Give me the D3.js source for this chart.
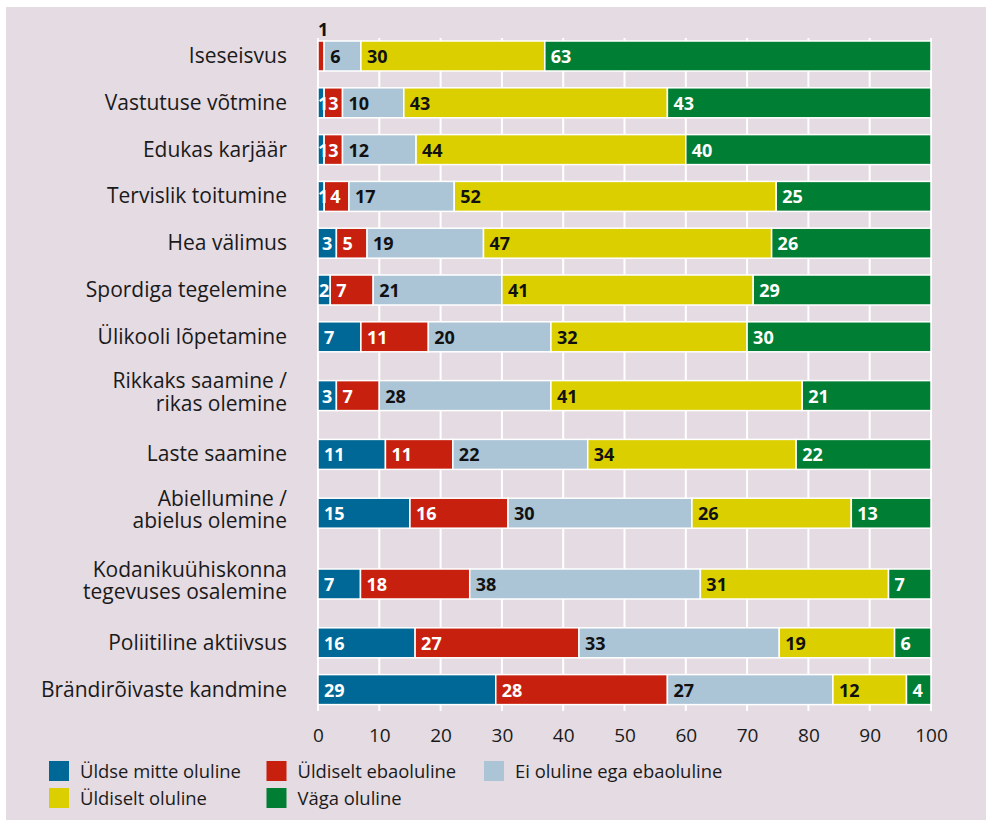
<!DOCTYPE html>
<html>
<head>
<meta charset="utf-8">
<script src="https://cdn.jsdelivr.net/npm/d3@7"></script>
<style>
  html, body { margin: 0; padding: 0; background: #ffffff; }
  text { font-family: "Open Sans", "Noto Sans", sans-serif; }
</style>
</head>
<body>
<div class="chart"></div>
<script>
// categories (multi-line labels as arrays)
const categories = [
  ["Iseseisvus"],
  ["Vastutuse võtmine"],
  ["Edukas karjäär"],
  ["Tervislik toitumine"],
  ["Hea välimus"],
  ["Spordiga tegelemine"],
  ["Ülikooli lõpetamine"],
  ["Rikkaks saamine /", "rikas olemine"],
  ["Laste saamine"],
  ["Abiellumine /", "abielus olemine"],
  ["Kodanikuühiskonna", "tegevuses osalemine"],
  ["Poliitiline aktiivsus"],
  ["Brändirõivaste kandmine"]
];

const seriesNames = [
  "Üldse mitte oluline",
  "Üldiselt ebaoluline",
  "Ei oluline ega ebaoluline",
  "Üldiselt oluline",
  "Väga oluline"
];

// values per series, in category order
const uldseMitte     = [0, 1, 1, 1, 3, 2, 7, 3, 11, 15, 7, 16, 29];
const uldiseltEba    = [1, 3, 3, 4, 5, 7, 11, 7, 11, 16, 18, 27, 28];
const eiOlulineEga   = [6, 10, 12, 17, 19, 21, 20, 28, 22, 30, 38, 33, 27];
const uldiseltOluline= [30, 43, 44, 52, 47, 41, 32, 41, 34, 26, 31, 19, 12];
const vagaOluline    = [63, 43, 40, 25, 26, 29, 30, 21, 22, 13, 7, 6, 4];

const xTicks = [0, 10, 20, 30, 40, 50, 60, 70, 80, 90, 100];

const colors = ["#006896", "#c8200f", "#abc4d6", "#dccf00", "#007e33"];
const labelColors = ["#ffffff", "#ffffff", "#111111", "#111111", "#ffffff"];

var cfg = {
  width: 986,
  height: 820,
  left: 318,
  right: 931,
  firstRow: 56,
  rowStep: 46.8,
  lineExtra: 12,
  barHeight: 30,
  gridTop: 38,
  gridBottom: 711
};

const allSeries = [uldseMitte, uldiseltEba, eiOlulineEga, uldiseltOluline, vagaOluline];
const names = categories.map(c => c.join(" "));

// table for d3.stack
const table = names.map((n, i) => {
  var row = {name: n};
  seriesNames.forEach((s, j) => row[s] = allSeries[j][i]);
  return row;
});

const stacked = d3.stack()
  .keys(seriesNames)
  .offset(d3.stackOffsetExpand)(table);

// row centres: two-line labels need extra room
var centers = [cfg.firstRow];
for (var i = 1; i < categories.length; i++) {
  centers.push(centers[i - 1] + cfg.rowStep +
    cfg.lineExtra * ((categories[i - 1].length - 1) + (categories[i].length - 1)));
}

var x = d3.scaleLinear().domain([0, 100]).range([cfg.left, cfg.right]);
var y = d3.scaleOrdinal().domain(names).range(centers);
var color = d3.scaleOrdinal().domain(seriesNames).range(colors);

var svg = d3.select(".chart").append("svg")
  .attr("width", cfg.width)
  .attr("height", cfg.height);

// background panel
svg.append("rect")
  .attr("x", 6).attr("y", 7)
  .attr("width", cfg.width - 6).attr("height", cfg.height - 7)
  .attr("fill", "#e5dbe2");

// gridlines
svg.append("g").selectAll("line")
  .data(xTicks)
  .enter().append("line")
  .attr("x1", d => x(d)).attr("x2", d => x(d))
  .attr("y1", cfg.gridTop).attr("y2", cfg.gridBottom)
  .attr("stroke", "#ffffff")
  .attr("stroke-width", 2);

// x axis labels
var axis = svg.append("g")
  .attr("transform", `translate(0, ${cfg.gridBottom + 31})`)
  .call(d3.axisBottom(x).tickValues(xTicks).tickSize(0).tickPadding(0));
axis.select(".domain").remove();
axis.selectAll("text")
  .attr("dy", 0)
  .attr("y", 0)
  .style("font-family", "'Open Sans', sans-serif")
  .style("font-size", "19px")
  .attr("fill", "#1a1a1a");

// category labels, one text per line
var catG = svg.append("g");
categories.forEach((lines, i) => {
  var n = lines.length;
  lines.forEach((line, k) => {
    catG.append("text")
      .attr("text-anchor", "end")
      .attr("x", 287)
      .attr("y", centers[i] + 7 - (n - 1) * 3 + (k - (n - 1) / 2) * 22.5)
      .style("font-size", "21px")
      .attr("fill", "#1a1a1a")
      .text(line);
  });
});

// bars
var layers = svg.append("g").selectAll("g")
  .data(stacked)
  .enter().append("g")
  .attr("fill", d => color(d.key));

layers.selectAll("rect")
  .data(d => d)
  .enter().append("rect")
  .filter(d => d[1] - d[0] > 0)
  .attr("x", d => x(d[0] * 100))
  .attr("width", d => x(d[1] * 100) - x(d[0] * 100))
  .attr("y", d => y(d.data.name) - cfg.barHeight / 2)
  .attr("height", cfg.barHeight)
  .attr("stroke", "#ffffff")
  .attr("stroke-width", 1.5);

// value labels
var labelG = svg.append("g");
stacked.forEach((layer, j) => {
  layer.forEach((d, i) => {
    var v = allSeries[j][i];
    if (v === 0) return;
    var x0 = x(d[0] * 100), x1 = x(d[1] * 100), w = x1 - x0;
    var cy = y(d.data.name);
    var t = labelG.append("text")
      .style("font-size", "18px")
      .style("font-weight", "bold")
      .text(v);
    var tw = t.node().getComputedTextLength();
    if (w < tw && j > 0) {
      // too narrow: put label above the bar
      t.attr("x", x0).attr("y", cy - cfg.barHeight / 2 - 5).attr("fill", "#111111");
    } else {
      var pad = Math.max(0, Math.min(6, (w - tw) / 2));
      t.attr("x", x0 + pad).attr("y", cy + 7).attr("fill", labelColors[j]);
    }
  });
});

// legend
var legend = svg.append("g");
seriesNames.forEach((s, i) => {
  var col = i % 3, row = Math.floor(i / 3);
  var g = legend.append("g")
    .attr("transform", `translate(${49 + col * 217.5}, ${761 + row * 27})`);
  g.append("rect")
    .attr("width", 20).attr("height", 20)
    .attr("fill", color(s));
  g.append("text")
    .attr("x", 31).attr("y", 16.5)
    .style("font-size", "18.4px")
    .attr("fill", "#1a1a1a")
    .text(s);
});
</script>
</body>
</html>
